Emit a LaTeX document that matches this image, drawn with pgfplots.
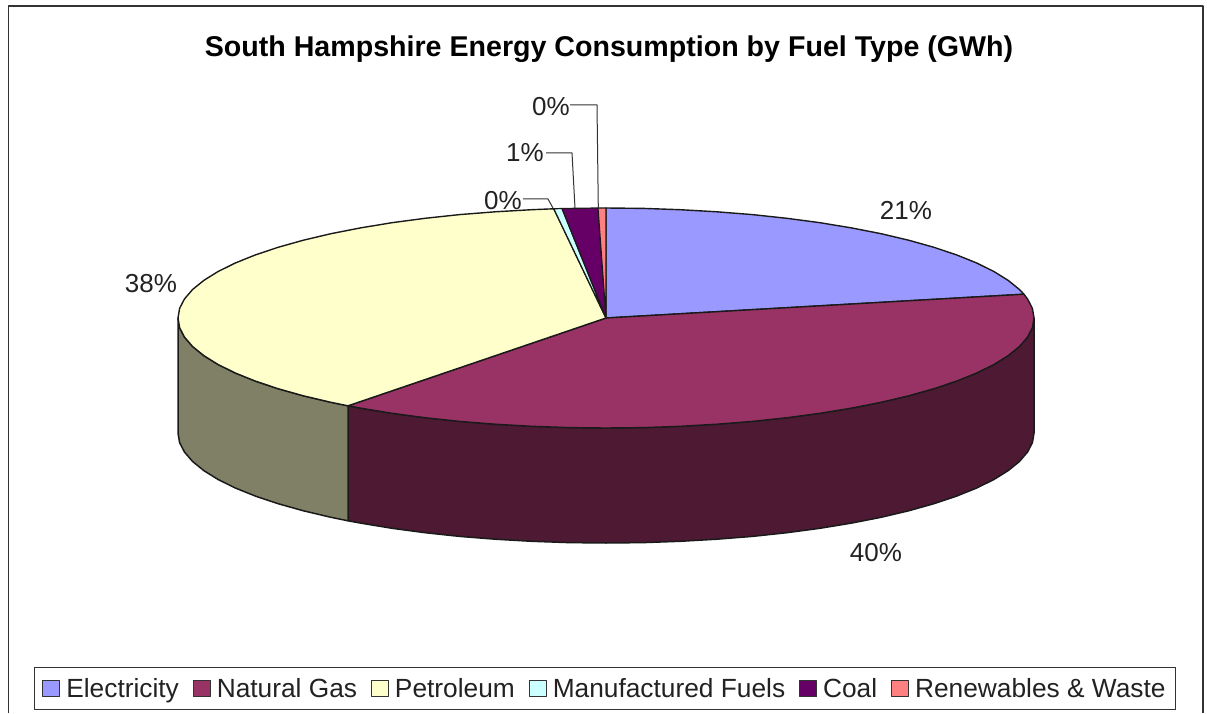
\documentclass[border=0pt]{standalone}
\usepackage{pgfplots}
\pgfplotsset{compat=1.18}
\usepackage{fontspec}
\setmainfont{Liberation Sans}
\definecolor{cElec}{HTML}{9999FF}
\definecolor{cGas}{HTML}{993366}
\definecolor{cPet}{HTML}{FFFFCC}
\definecolor{cMan}{HTML}{CCFFFF}
\definecolor{cCoal}{HTML}{660066}
\definecolor{cRen}{HTML}{FF8080}
\definecolor{cGasD}{HTML}{4D1933}
\definecolor{cPetD}{HTML}{808066}
\definecolor{edge}{HTML}{1A1A1A}
\definecolor{lead}{HTML}{333333}
\definecolor{txt}{HTML}{222222}
\begin{document}
\begin{tikzpicture}
\begin{axis}[
  scale only axis, width=1207pt, height=713pt,
  xmin=0, xmax=1207, ymin=0, ymax=713, y dir=reverse,
  hide axis, clip=false,
  legend columns=-1,
  legend cell align=left,
  legend style={at={(axis cs:605,688.5)}, anchor=center, draw=lead, line width=1.1pt,
    font=\fontsize{26.3}{29}\selectfont, text=txt, inner xsep=8pt, inner ysep=9pt,
    /tikz/every even column/.append style={column sep=12pt},
    /tikz/every odd column/.append style={column sep=4pt}},
  legend image code/.code={\draw[#1,line width=0.9pt,draw=lead] (0pt,-8pt) rectangle (17pt,8pt);},
  every axis plot/.append style={line join=round},
]
% page extent
\addplot[draw=none, forget plot] coordinates {(0,0)(1207,713)};
% frame
\addplot[lead, line width=1.3pt, forget plot] coordinates {(8.5,713) (8.5,6) (1203,6) (1203,713)};
% side walls
\addplot[fill=cGasD, draw=edge, line width=1.5pt, forget plot] coordinates {
(348,405.8)(360.5,408.1)(392,413.3)(425.1,417.7)(459.6,421.4)(495.2,424.2)(531.7,426.3)(568.7,427.6)(606,428)
(643.3,427.6)(680.3,426.3)(716.8,424.2)(752.4,421.4)(786.9,417.7)(820,413.3)(851.5,408.1)(881.1,402.3)(908.6,395.8)
(933.9,388.7)(956.6,381.1)(976.7,373)(993.9,364.5)(1008.2,355.6)(1019.4,346.5)(1027.5,337.1)(1032.4,327.6)(1034,318)
(1034,433)(1032.4,442.6)(1027.5,452.1)(1019.4,461.5)(1008.2,470.6)(993.9,479.5)(976.7,488)(956.6,496.1)(933.9,503.7)
(908.6,510.8)(881.1,517.3)(851.5,523.1)(820,528.3)(786.9,532.7)(752.4,536.4)(716.8,539.2)(680.3,541.3)(643.3,542.6)
(606,543)(568.7,542.6)(531.7,541.3)(495.2,539.2)(459.6,536.4)(425.1,532.7)(392,528.3)(360.5,523.1)(348,520.8)
} --cycle;
\addplot[fill=cPetD, draw=edge, line width=1.5pt, forget plot] coordinates {
(178,318)(179.6,327.6)(184.5,337.1)(192.6,346.5)(203.8,355.6)(218.1,364.5)(235.3,373)(255.4,381.1)(278.1,388.7)
(303.4,395.8)(330.9,402.3)(348,405.8)
(348,520.8)(330.9,517.3)(303.4,510.8)(278.1,503.7)(255.4,496.1)(235.3,488)(218.1,479.5)(203.8,470.6)(192.6,461.5)
(184.5,452.1)(179.6,442.6)(178,433)
} --cycle;
% top faces
\addplot[fill=cElec, draw=edge, line width=1.4pt] coordinates {
(606,318)(606,208)(643.3,208.4)(680.3,209.7)(716.8,211.8)(752.4,214.6)(786.9,218.3)(820,222.7)(851.5,227.9)(881.1,233.7)
(908.6,240.2)(933.9,247.3)(956.6,254.9)(976.7,263)(993.9,271.5)(1008.2,280.4)(1019.4,289.5)(1023.9,294.2)
} --cycle;
\addlegendentry{Electricity}
\addplot[fill=cGas, draw=edge, line width=1.4pt] coordinates {
(606,318)(1023.9,294.2)(1027.5,298.9)(1032.4,308.4)(1034,318)(1032.4,327.6)(1027.5,337.1)(1019.4,346.5)(1008.2,355.6)(993.9,364.5)
(976.7,373)(956.6,381.1)(933.9,388.7)(908.6,395.8)(881.1,402.3)(851.5,408.1)(820,413.3)(786.9,417.7)(752.4,421.4)
(716.8,424.2)(680.3,426.3)(643.3,427.6)(606,428)(568.7,427.6)(531.7,426.3)(495.2,424.2)(459.6,421.4)(425.1,417.7)
(392,413.3)(360.5,408.1)(348,405.8)
} --cycle;
\addlegendentry{Natural Gas}
\addplot[fill=cPet, draw=edge, line width=1.4pt] coordinates {
(606,318)(348,405.8)(330.9,402.3)(303.4,395.8)(278.1,388.7)(255.4,381.1)(235.3,373)(218.1,364.5)(203.8,355.6)(192.6,346.5)
(184.5,337.1)(179.6,327.6)(178,318)(179.6,308.4)(184.5,298.9)(192.6,289.5)(203.8,280.4)(218.1,271.5)(235.3,263)(255.4,254.9)
(278.1,247.3)(303.4,240.2)(330.9,233.7)(360.5,227.9)(392,222.7)(425.1,218.3)(459.6,214.6)(495.2,211.8)(531.7,209.7)(553.8,208.8)
} --cycle;
\addlegendentry{Petroleum}
\addplot[fill=cMan, draw=edge, line width=1.2pt] coordinates {(606,318)(553.8,208.8)(562,208.5)} --cycle;
\addlegendentry{Manufactured Fuels}
\addplot[fill=cCoal, draw=edge, line width=1.2pt] coordinates {(606,318)(562,208.5)(568.7,208.4)(598,208)} --cycle;
\addlegendentry{Coal}
\addplot[fill=cRen, draw=edge, line width=1.2pt] coordinates {(606,318)(598,208)(606,208)} --cycle;
\addlegendentry{Renewables \& Waste}
% leader lines
\addplot[lead, line width=1pt, forget plot] coordinates {(570,105)(597,105)(598.3,208)};
\addplot[lead, line width=1pt, forget plot] coordinates {(546,153)(572,153)(575,208)};
\addplot[lead, line width=1pt, forget plot] coordinates {(523,199)(548,199)(553,208)};
% labels
\node[font=\bfseries\fontsize{28.6}{32}\selectfont, text=black] at (axis cs:609,49) {South Hampshire Energy Consumption by Fuel Type (GWh)};
\node[font=\fontsize{26}{30}\selectfont, text=txt] at (axis cs:906,210) {21\%};
\node[font=\fontsize{26}{30}\selectfont, text=txt] at (axis cs:876,553) {40\%};
\node[font=\fontsize{26}{30}\selectfont, text=txt] at (axis cs:151,284) {38\%};
\node[font=\fontsize{26}{30}\selectfont, text=txt] at (axis cs:503,201) {0\%};
\node[font=\fontsize{26}{30}\selectfont, text=txt] at (axis cs:525,153) {1\%};
\node[font=\fontsize{26}{30}\selectfont, text=txt] at (axis cs:551,107) {0\%};
\end{axis}
\end{tikzpicture}
\end{document}
